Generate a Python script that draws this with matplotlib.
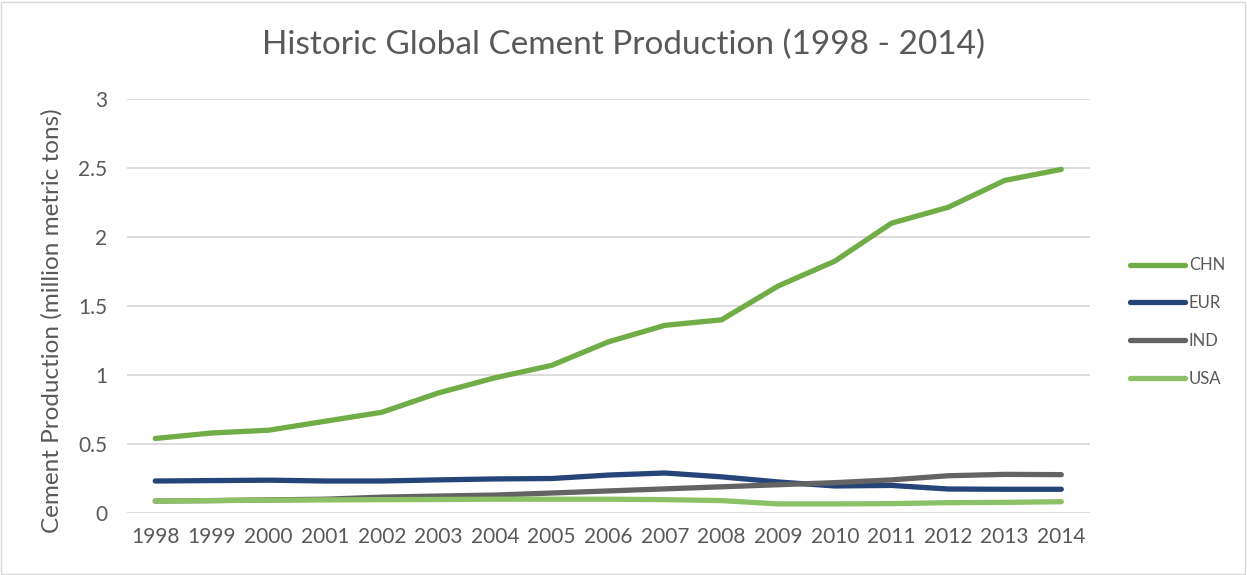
import numpy as np
import pandas as pd
import matplotlib.pyplot as plt
from matplotlib.patches import Rectangle

plt.rcParams['font.family'] = ['Lato', 'DejaVu Sans']

years = [str(y) for y in range(1998, 2015)]
chn = [0.54, 0.58, 0.60, 0.665, 0.73, 0.87, 0.98, 1.07, 1.24, 1.36, 1.40,
       1.645, 1.825, 2.10, 2.215, 2.41, 2.49]
eur = [0.232, 0.235, 0.238, 0.232, 0.232, 0.24, 0.247, 0.25, 0.275, 0.29, 0.262,
       0.225, 0.196, 0.2, 0.174, 0.172, 0.172]
ind = [0.087, 0.09, 0.095, 0.1, 0.115, 0.123, 0.13, 0.145, 0.16, 0.175, 0.19,
       0.205, 0.22, 0.24, 0.27, 0.28, 0.278]
usa = [0.087, 0.09, 0.093, 0.095, 0.097, 0.098, 0.1, 0.1, 0.1, 0.097, 0.09,
       0.066, 0.066, 0.068, 0.075, 0.077, 0.082]

series = {'CHN': (chn, '#70AD47'), 'EUR': (eur, '#264478'),
          'IND': (ind, '#636363'), 'USA': (usa, '#8CC168')}

txt = '#595959'
fig = plt.figure(figsize=(12.47, 5.75), dpi=100)
ax = fig.add_axes([0.1018, 0.1078, 0.772, 0.72])

x = np.arange(len(years))
for name, (vals, col) in series.items():
    ax.plot(x, vals, color=col, lw=3.8, solid_capstyle='round',
            solid_joinstyle='round', label=name)

ax.set_xlim(-0.5, len(years) - 0.5)
ax.set_ylim(0, 3)
ax.set_yticks([0, 0.5, 1, 1.5, 2, 2.5, 3])
ax.set_yticklabels(['0', '0.5', '1', '1.5', '2', '2.5', '3'])
ax.set_xticks(x)
ax.set_xticklabels(years)
ax.tick_params(length=0, labelsize=15, colors=txt, pad=10)
ax.tick_params(axis='y', pad=14)
ax.grid(axis='y', color='#D9D9D9', lw=1.3)
ax.set_axisbelow(True)
for s in ax.spines.values():
    s.set_visible(False)

ax.set_ylabel('Cement Production (million metric tons)', fontsize=17.5, color=txt)
ax.yaxis.set_label_coords(-0.0666, 0.464)
fig.text(0.5, 0.921, 'Historic Global Cement Production (1998 - 2014)',
         ha='center', va='center', fontsize=24, color=txt)

leg = fig.legend(loc='center left', bbox_to_anchor=(0.906, 0.44), frameon=False,
                 fontsize=12, labelcolor=txt, handlelength=3.3, handletextpad=0.25,
                 labelspacing=1.3, borderpad=0, borderaxespad=0)

fig.patches.append(Rectangle((0.001, 0.002), 0.997, 0.995, transform=fig.transFigure,
                             fill=False, ec='#D9D9D9', lw=1))

fig.savefig('out.png', dpi=100)
